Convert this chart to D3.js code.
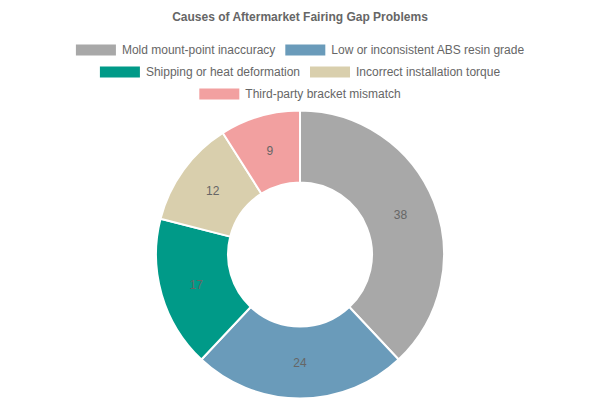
<!DOCTYPE html>
<html>
<head>
<meta charset="utf-8">
<script src="https://cdn.jsdelivr.net/npm/d3@7"></script>
<style>
  body { margin: 0; background: #fff; }
  text { font-family: "Liberation Sans", Arial, Helvetica, sans-serif; }
</style>
</head>
<body>
<div id="chart-area"></div>
<script>
// chart data
var causes = [
  'Mold mount-point inaccuracy',
  'Low or inconsistent ABS resin grade',
  'Shipping or heat deformation',
  'Incorrect installation torque',
  'Third-party bracket mismatch'
];
var counts = [38, 24, 17, 12, 9];
var colours = ['#a8a8a8', '#6a9bba', '#009a88', '#d9cfad', '#f2a0a0'];

var width = 600;
var height = 400;

var svg = d3.select('#chart-area')
  .append('svg')
    .attr('width', width)
    .attr('height', height);

// title
svg.append('text')
  .attr('x', width / 2)
  .attr('y', 21)
  .attr('text-anchor', 'middle')
  .attr('font-size', '12px')
  .attr('font-weight', 'bold')
  .attr('fill', '#666')
  .text('Causes of Aftermarket Fairing Gap Problems');

// legend, laid out in centred rows like chart.js does
var legendRows = [[0, 1], [2, 3], [4]];
var boxW = 40, boxH = 11, gap = 10, fontSize = 12;
var measure = svg.append('text').attr('font-size', fontSize + 'px');
function textWidth(s) {
  measure.text(s);
  return measure.node().getComputedTextLength();
}

var legend = svg.append('g').attr('class', 'legend');
legendRows.forEach(function (row, r) {
  var widths = row.map(i => boxW + fontSize / 2 + textWidth(causes[i]));
  var total = d3.sum(widths) + gap * (row.length - 1);
  var x = (width - total) / 2;
  var y = 50 + r * 22;
  row.forEach(function (i, k) {
    legend.append('rect')
      .attr('x', x)
      .attr('y', y - boxH / 2)
      .attr('width', boxW)
      .attr('height', boxH)
      .attr('fill', colours[i]);
    legend.append('text')
      .attr('x', x + boxW + fontSize / 2)
      .attr('y', y)
      .attr('dy', '0.35em')
      .attr('font-size', fontSize + 'px')
      .attr('fill', '#666')
      .text(causes[i]);
    x += widths[k] + gap;
  });
});
measure.remove();

// donut
var cx = 300, cy = 254.5;
var outerR = 144, innerR = 72;

var pie = d3.pie().sort(null).value(d => d);
var arc = d3.arc().innerRadius(innerR).outerRadius(outerR);
var labelArc = d3.arc().innerRadius((innerR + outerR) / 2).outerRadius((innerR + outerR) / 2);

var donut = svg.append('g')
  .attr('transform', `translate(${cx}, ${cy})`);

var slices = donut.selectAll('g.slice')
  .data(pie(counts))
  .enter()
  .append('g')
    .attr('class', 'slice');

slices.append('path')
  .attr('d', arc)
  .attr('fill', (d, i) => colours[i])
  .attr('stroke', '#fff')
  .attr('stroke-width', 2);

slices.append('text')
  .attr('transform', d => `translate(${labelArc.centroid(d)})`)
  .attr('text-anchor', 'middle')
  .attr('dy', '0.35em')
  .attr('font-size', '12px')
  .attr('fill', '#666')
  .text(d => d.data);
</script>
</body>
</html>
